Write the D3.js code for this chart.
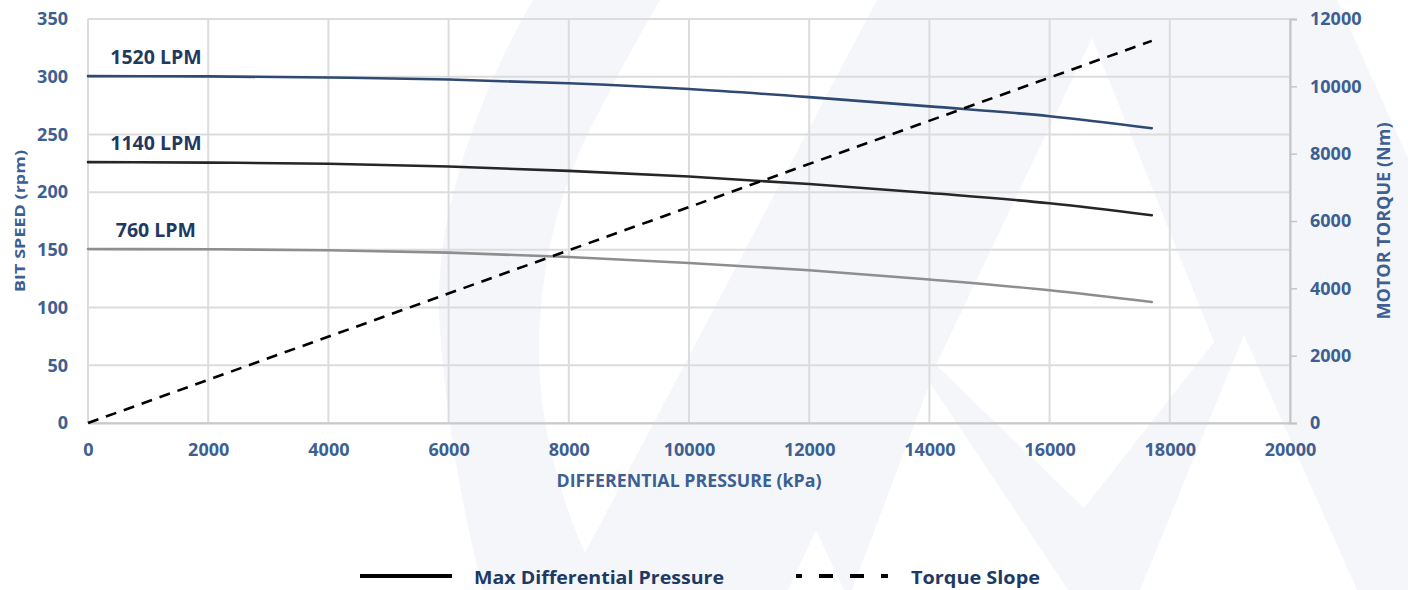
<!DOCTYPE html>
<html>
<head>
<meta charset="utf-8">
<script src="https://cdn.jsdelivr.net/npm/d3@7"></script>
<style>
  html, body { margin: 0; padding: 0; background: #ffffff; }
  svg { display: block; }
  text { font-family: "Open Sans", "DejaVu Sans", sans-serif; font-weight: 700; }
</style>
</head>
<body>
<svg id="chart" width="1408" height="590"></svg>
<script>
// ---------- data ----------
const pressure   = [0, 2000, 4000, 6000, 8000, 10000, 12000, 14000, 16000, 17700];
const speed1520  = [300.5, 300.3, 299.3, 297.6, 294.3, 289.3, 282.3, 274.3, 265.8, 255.4];
const speed1140  = [226, 225.6, 224.6, 222.2, 218.4, 213.5, 207.0, 199.2, 190.4, 180.0];
const speed760   = [150.7, 150.5, 149.6, 147.6, 143.8, 138.6, 132.4, 124.3, 115.0, 104.8];
const seriesNames = ["1520 LPM", "1140 LPM", "760 LPM"];
const torquePressure = [0, 17700];
const torqueValues   = [0, 11350];
const xTickValues     = [0, 2000, 4000, 6000, 8000, 10000, 12000, 14000, 16000, 18000, 20000];
const speedTickValues = [0, 50, 100, 150, 200, 250, 300, 350];
const torqueTickValues = [0, 2000, 4000, 6000, 8000, 10000, 12000];
const legendLabels = ["Max Differential Pressure", "Torque Slope"];
const xTitle = "DIFFERENTIAL PRESSURE (kPa)";
const yLeftTitle = "BIT SPEED (rpm)";
const yRightTitle = "MOTOR TORQUE (Nm)";

// ---------- setup ----------
const svg = d3.select("#chart");
const W = 1408, H = 590;
const plot = { left: 88, right: 1290, top: 19, bottom: 423 };

const x  = d3.scaleLinear().domain([0, 20000]).range([plot.left, plot.right]);
const yL = d3.scaleLinear().domain([0, 350]).range([plot.bottom, plot.top]);
const yR = d3.scaleLinear().domain([0, 12000]).range([plot.bottom, plot.top]);

const tickColor = "#3d5f91";
const navy = "#1c3a64";

// ---------- faint background watermark ----------
const wm = svg.append("g");
wm.append("path")
  .attr("d", "M533,0 C470,110 432,230 440,330 C447,430 465,520 483,590 L1408,590 L1408,0 Z")
  .attr("fill", "#f4f6fa");
const whites = [
  "M660,0 L877,0 L585,553 C570,520 545,450 540,380 C535,300 550,200 600,110 C620,70 640,35 660,0 Z",
  "M1092,38 L1214,342 L1084,508 L936,365 Z",
  "M930,383 L1068,590 L852,590 Z",
  "M816,530 L844,590 L788,590 Z",
  "M1244,335 L1357,590 L1140,590 Z",
  "M1337,0 L1408,0 L1408,158 Z"
];
wm.selectAll("path.w").data(whites).enter().append("path")
  .attr("class", "w").attr("d", d => d).attr("fill", "#ffffff");

// ---------- gridlines ----------
const grid = svg.append("g");
grid.selectAll("line.v").data(xTickValues).enter().append("line")
  .attr("x1", d => x(d)).attr("x2", d => x(d))
  .attr("y1", plot.top).attr("y2", plot.bottom)
  .attr("stroke", "#dcdcdc").attr("stroke-width", 2);
grid.selectAll("line.h").data(speedTickValues).enter().append("line")
  .attr("x1", plot.left).attr("x2", plot.right)
  .attr("y1", d => yL(d)).attr("y2", d => yL(d))
  .attr("stroke", "#dcdcdc").attr("stroke-width", 2);

// ---------- axes ----------
const gx = svg.append("g").attr("transform", `translate(0,${plot.bottom})`)
  .call(d3.axisBottom(x).tickValues(xTickValues).tickSize(0).tickPadding(20).tickFormat(d3.format("d")));
gx.select(".domain").attr("stroke", "#c9c9c9").attr("stroke-width", 2);
gx.selectAll("text").attr("fill", tickColor).attr("font-size", 18);

const gl = svg.append("g").attr("transform", `translate(${plot.left},0)`)
  .call(d3.axisLeft(yL).tickValues(speedTickValues).tickSize(0).tickPadding(20).tickFormat(d3.format("d")));
gl.select(".domain").remove();
gl.selectAll("text").attr("fill", tickColor).attr("font-size", 18);

const gr = svg.append("g").attr("transform", `translate(${plot.right},0)`)
  .call(d3.axisRight(yR).tickValues(torqueTickValues).tickSize(7).tickPadding(13).tickFormat(d3.format("d")));
gr.select(".domain").attr("stroke", "#c4c4c4").attr("stroke-width", 2);
gr.selectAll(".tick line").attr("stroke", "#c4c4c4").attr("stroke-width", 1.5);
gr.selectAll("text").attr("fill", tickColor).attr("font-size", 18);

// ---------- axis titles ----------
svg.append("text")
  .attr("x", (plot.left + plot.right) / 2).attr("y", 487)
  .attr("text-anchor", "middle").attr("fill", tickColor).attr("font-size", 17)
  .attr("textLength", 265).attr("lengthAdjust", "spacingAndGlyphs")
  .text(xTitle);
svg.append("text")
  .attr("transform", "translate(25,221) rotate(-90)")
  .attr("text-anchor", "middle").attr("fill", tickColor).attr("font-size", 15)
  .attr("textLength", 142).attr("lengthAdjust", "spacingAndGlyphs")
  .text(yLeftTitle);
svg.append("text")
  .attr("transform", "translate(1390,221) rotate(-90)")
  .attr("text-anchor", "middle").attr("fill", tickColor).attr("font-size", 17.5)
  .attr("textLength", 197).attr("lengthAdjust", "spacingAndGlyphs")
  .text(yRightTitle);

// ---------- series ----------
const series = [
  { name: seriesNames[0], values: speed1520, color: "#2e4a72" },
  { name: seriesNames[1], values: speed1140, color: "#262626" },
  { name: seriesNames[2], values: speed760,  color: "#8e8e8e" }
];
const line = d3.line().x(d => x(d[0])).y(d => yL(d[1])).curve(d3.curveMonotoneX);
series.forEach(s => {
  const pts = pressure.map((p, i) => [p, s.values[i]]);
  svg.append("path").datum(pts)
    .attr("d", line).attr("fill", "none")
    .attr("stroke", s.color).attr("stroke-width", 2.6).attr("stroke-linecap", "round");
  svg.append("text")
    .attr("x", x(1130)).attr("y", yL(s.values[0]) - 12.5)
    .attr("text-anchor", "middle").attr("fill", "#1f3a62").attr("font-size", 19.5)
    .text(s.name);
});

// torque (right axis)
const tline = d3.line().x(d => x(d[0])).y(d => yR(d[1]));
svg.append("path").datum(torquePressure.map((p, i) => [p, torqueValues[i]]))
  .attr("d", tline).attr("fill", "none")
  .attr("stroke", "#000").attr("stroke-width", 2.6).attr("stroke-dasharray", "11,8");

// ---------- legend ----------
const lg = svg.append("g");
lg.append("line").attr("x1", 360).attr("x2", 452).attr("y1", 576).attr("y2", 576)
  .attr("stroke", "#000").attr("stroke-width", 4);
lg.append("text").attr("x", 474).attr("y", 583.5).attr("fill", navy).attr("font-size", 18)
  .attr("textLength", 250).attr("lengthAdjust", "spacingAndGlyphs").text(legendLabels[0]);
lg.append("line").attr("x1", 796).attr("x2", 888).attr("y1", 576).attr("y2", 576)
  .attr("stroke", "#000").attr("stroke-width", 4)
  .attr("stroke-dasharray", "14,17").attr("stroke-dashoffset", 8);
lg.append("text").attr("x", 911).attr("y", 583.5).attr("fill", navy).attr("font-size", 18)
  .attr("textLength", 129).attr("lengthAdjust", "spacingAndGlyphs").text(legendLabels[1]);
</script>
</body>
</html>
